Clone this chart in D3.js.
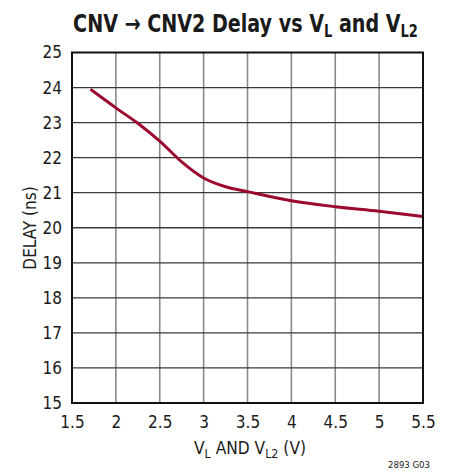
<!DOCTYPE html>
<html><head><meta charset="utf-8">
<script src="https://cdn.jsdelivr.net/npm/d3@7"></script>
<style>
body{margin:0;background:#fff;}
text{font-family:"DejaVu Sans Condensed","DejaVu Sans",sans-serif;font-stretch:condensed;fill:#1a1a1a;}
</style></head>
<body><svg id="c" width="451" height="472"></svg>
<script>
const voltage = [1.71, 2.0, 2.25, 2.5, 2.75, 3.0, 3.25, 3.5, 4.0, 4.5, 5.0, 5.5];
const delay   = [23.95, 23.42, 22.98, 22.47, 21.88, 21.42, 21.17, 21.03, 20.77, 20.60, 20.47, 20.32];
const xTicks = [1.5, 2, 2.5, 3, 3.5, 4, 4.5, 5, 5.5];
const yTicks = [15, 16, 17, 18, 19, 20, 21, 22, 23, 24, 25];

const svg = d3.select("#c");
const L = 72, R = 423, T = 52.5, B = 403;
const x = d3.scaleLinear().domain([1.5, 5.5]).range([L, R]);
const y = d3.scaleLinear().domain([15, 25]).range([B, T]);

// grid
svg.append("g").selectAll("line").data(xTicks.slice(1, -1)).join("line")
  .attr("x1", d => x(d)).attr("x2", d => x(d)).attr("y1", T).attr("y2", B)
  .attr("stroke", "#8a8a8a").attr("stroke-width", 1.6);
svg.append("g").selectAll("line").data(yTicks.slice(1, -1)).join("line")
  .attr("y1", d => y(d)).attr("y2", d => y(d)).attr("x1", L).attr("x2", R)
  .attr("stroke", "#3a3a3a").attr("stroke-width", 1.3);

// curve
const pts = voltage.map((v, i) => [v, delay[i]]);
svg.append("path").datum(pts)
  .attr("d", d3.line().x(d => x(d[0])).y(d => y(d[1])).curve(d3.curveMonotoneX))
  .attr("fill", "none").attr("stroke", "#9c0a30").attr("stroke-width", 3);

// frame
svg.append("rect").attr("x", L).attr("y", T).attr("width", R - L).attr("height", B - T)
  .attr("fill", "none").attr("stroke", "#111").attr("stroke-width", 2);

// tick labels
const xAxis = d3.axisBottom(x).tickValues(xTicks).tickSize(0).tickPadding(13).tickFormat(d3.format("~g"));
const gx = svg.append("g").attr("transform", `translate(0,${B})`).call(xAxis);
gx.select(".domain").remove();
gx.attr("font-family", null).attr("font-size", null);
gx.selectAll("text").attr("font-size", 17).attr("fill", "#1a1a1a");

const yAxis = d3.axisLeft(y).tickValues(yTicks).tickSize(0).tickPadding(10).tickFormat(d3.format("~g"));
const gy = svg.append("g").attr("transform", `translate(${L},0)`).call(yAxis);
gy.select(".domain").remove();
gy.attr("font-family", null).attr("font-size", null);
gy.selectAll("text").attr("font-size", 17).attr("fill", "#1a1a1a");

function fitWidth(sel, cx, cy, w) {
  const bb = sel.node().getBBox();
  sel.attr("transform", `translate(${cx},${cy}) scale(${w / bb.width},1)`);
}

// title
const t = svg.append("text").attr("x", 0).attr("y", 0).attr("text-anchor", "middle")
  .attr("font-size", 25).attr("font-weight", "bold");
t.append("tspan").text("CNV \u2192 CNV2 Delay vs V");
t.append("tspan").attr("font-size", 17).attr("dy", 5).text("L");
t.append("tspan").attr("dy", -5).text(" and V");
t.append("tspan").attr("font-size", 17).attr("dy", 5).text("L2");
fitWidth(t, 245.5, 32, 345);

// x label
const xl = svg.append("text").attr("x", 0).attr("y", 0).attr("text-anchor", "middle").attr("font-size", 18);
xl.append("tspan").text("V");
xl.append("tspan").attr("font-size", 13).attr("dy", 4).text("L");
xl.append("tspan").attr("dy", -4).text(" AND V");
xl.append("tspan").attr("font-size", 13).attr("dy", 4).text("L2");
xl.append("tspan").attr("dy", -4).text(" (V)");
fitWidth(xl, 250, 454, 112);

// y label
svg.append("text").attr("transform", "translate(36,228) rotate(-90)").attr("text-anchor", "middle")
  .attr("font-size", 17).text("DELAY (ns)");

svg.append("text").attr("x", 430).attr("y", 468).attr("text-anchor", "end").attr("font-size", 9.5).text("2893 G03");
</script></body></html>
